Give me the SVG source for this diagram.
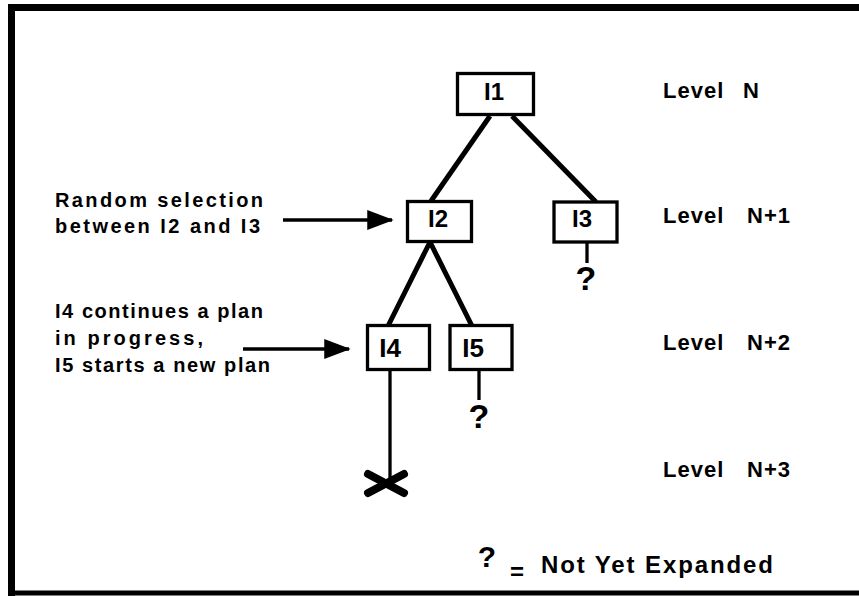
<svg xmlns="http://www.w3.org/2000/svg" width="859" height="596" viewBox="0 0 859 596">
  <style>
    text { font-family: "Liberation Sans", Arial, Helvetica, sans-serif; font-weight: bold; fill: #000; }
    .node rect { fill: #fff; stroke: #000; stroke-width: 3.3; }
    .lbl { font-size: 24px; text-anchor: middle; }
    .lbl2 { font-size: 26px; text-anchor: middle; }
    .lvl { font-size: 22px; letter-spacing: 1px; }
    .note { font-size: 20px; }
    .q { font-size: 34px; text-anchor: middle; }
    .edge { stroke: #000; stroke-width: 5; fill: none; }
    .stub { stroke: #000; stroke-width: 3.3; fill: none; }
    .arrow { stroke: #000; stroke-width: 3.3; fill: none; marker-end: url(#head); }
  </style>
  <defs>
    <marker id="head" markerWidth="8" markerHeight="6" refX="7.5" refY="3" orient="auto" markerUnits="strokeWidth">
      <path d="M0,0 L8,3 L0,6 Z" fill="#000"/>
    </marker>
  </defs>

  <!-- frame -->
  <rect width="859" height="596" fill="#fff"/>
  <path d="M11.5,596 L11.5,7.5 L859,7.5" fill="none" stroke="#000" stroke-width="7"/>
  <line x1="8" y1="593" x2="859" y2="593" stroke="#000" stroke-width="5"/>

  <!-- connectors -->
  <g id="connectors">
    <line class="edge" x1="490" y1="116" x2="431" y2="201"/>
    <line class="edge" x1="512" y1="116" x2="596" y2="202"/>
    <line class="edge" x1="430" y1="242" x2="388" y2="326"/>
    <line class="edge" x1="430" y1="242" x2="472" y2="326"/>
    <line class="stub" x1="587" y1="243" x2="587" y2="263"/>
    <line class="stub" x1="479" y1="371" x2="479" y2="400"/>
    <line class="stub" x1="390" y1="371" x2="390" y2="480"/>
    <line class="arrow" x1="283" y1="220" x2="392" y2="220"/>
    <line class="arrow" x1="243" y1="349" x2="349" y2="349"/>
  </g>

  <!-- nodes -->
  <g id="I1" class="node">
    <rect x="457.5" y="73.5" width="76" height="41"/>
    <text class="lbl" x="494" y="100">I1</text>
  </g>
  <g id="I2" class="node">
    <rect x="407.5" y="201.5" width="64" height="40"/>
    <text class="lbl" x="438" y="227">I2</text>
  </g>
  <g id="I3" class="node">
    <rect x="554" y="202" width="63" height="40"/>
    <text class="lbl" x="582" y="227">I3</text>
  </g>
  <g id="I4" class="node">
    <rect x="367.5" y="325.5" width="62" height="44"/>
    <text class="lbl2" x="390" y="357">I4</text>
  </g>
  <g id="I5" class="node">
    <rect x="450" y="325.5" width="62" height="44"/>
    <text class="lbl2" x="473" y="357">I5</text>
  </g>

  <!-- unexpanded markers -->
  <g id="q3"><text class="q" x="586" y="290">?</text></g>
  <g id="q5"><text class="q" x="479" y="428">?</text></g>

  <!-- dead end -->
  <g id="deadend" stroke="#000" stroke-width="8" stroke-linecap="round">
    <line x1="368" y1="474" x2="404" y2="493"/>
    <line x1="368" y1="493" x2="404" y2="474"/>
  </g>

  <!-- level labels -->
  <g id="levels">
    <text class="lvl" y="98"><tspan x="663">Level</tspan><tspan x="743">N</tspan></text>
    <text class="lvl" y="223"><tspan x="663">Level</tspan><tspan x="747">N+1</tspan></text>
    <text class="lvl" y="350"><tspan x="663">Level</tspan><tspan x="747">N+2</tspan></text>
    <text class="lvl" y="477"><tspan x="663">Level</tspan><tspan x="747">N+3</tspan></text>
  </g>

  <!-- annotations -->
  <g id="note1">
    <text class="note" x="55" y="207" textLength="208" lengthAdjust="spacing">Random selection</text>
    <text class="note" x="55" y="233" textLength="205" lengthAdjust="spacing">between I2 and I3</text>
  </g>
  <g id="note2">
    <text class="note" x="55" y="318" textLength="208" lengthAdjust="spacing">I4 continues a plan</text>
    <text class="note" x="55" y="345" textLength="148" lengthAdjust="spacing">in progress,</text>
    <text class="note" x="55" y="372" textLength="215" lengthAdjust="spacing">I5 starts a new plan</text>
  </g>

  <!-- legend -->
  <g id="legend">
    <text x="487" y="567" style="font-size:30px;text-anchor:middle">?</text>
    <text x="517" y="580" style="font-size:24px;text-anchor:middle">=</text>
    <text x="541" y="573" style="font-size:24px" textLength="232" lengthAdjust="spacing">Not Yet Expanded</text>
  </g>
</svg>
